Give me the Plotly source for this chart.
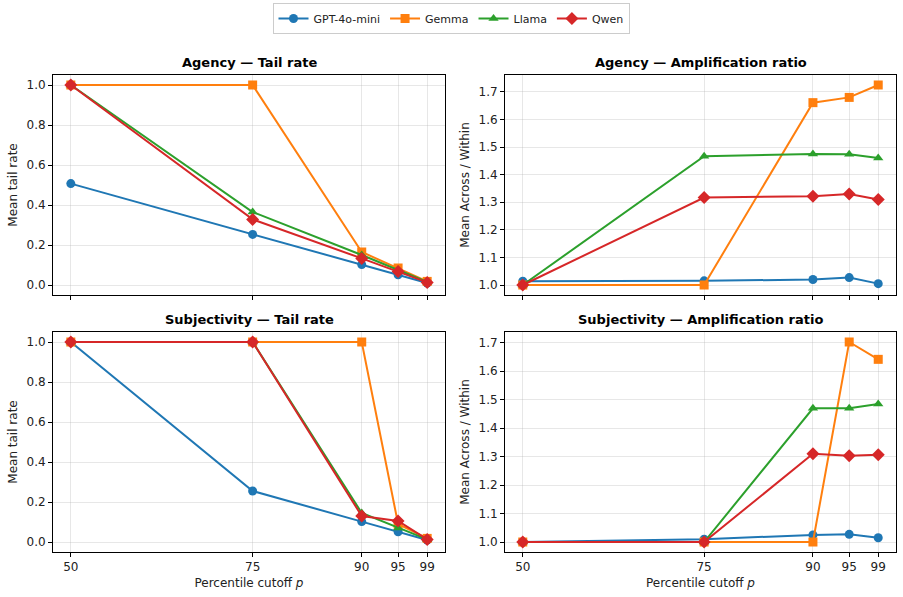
import plotly.graph_objects as go

p_cutoffs = [50, 75, 90, 95, 99]
models = ["GPT-4o-mini", "Gemma", "Llama", "Qwen"]
colors = ["#1f77b4", "#ff7f0e", "#2ca02c", "#d62728"]
symbols = ["circle", "square", "triangle-up", "diamond"]

agency_tail = {
    "GPT-4o-mini": [0.507, 0.253, 0.102, 0.051, 0.010],
    "Gemma": [1.0, 1.0, 0.165, 0.085, 0.018],
    "Llama": [1.0, 0.365, 0.150, 0.075, 0.015],
    "Qwen": [1.0, 0.328, 0.133, 0.068, 0.013],
}
agency_amp = {
    "GPT-4o-mini": [1.014, 1.015, 1.020, 1.027, 1.005],
    "Gemma": [1.0, 1.0, 1.661, 1.680, 1.725],
    "Llama": [1.0, 1.467, 1.475, 1.474, 1.460],
    "Qwen": [1.0, 1.317, 1.322, 1.330, 1.310],
}
subj_tail = {
    "GPT-4o-mini": [1.0, 0.255, 0.102, 0.051, 0.010],
    "Gemma": [1.0, 1.0, 1.0, 0.090, 0.018],
    "Llama": [1.0, 1.0, 0.145, 0.070, 0.013],
    "Qwen": [1.0, 1.0, 0.130, 0.105, 0.013],
}
subj_amp = {
    "GPT-4o-mini": [1.0, 1.010, 1.025, 1.027, 1.015],
    "Gemma": [1.0, 1.0, 1.0, 1.703, 1.642],
    "Llama": [1.0, 1.0, 1.470, 1.470, 1.485],
    "Qwen": [1.0, 1.0, 1.310, 1.303, 1.307],
}

panels = [
    ("Agency — Tail rate", agency_tail, "Mean tail rate", "x", "y"),
    ("Agency — Amplification ratio", agency_amp, "Mean Across / Within", "x2", "y2"),
    ("Subjectivity — Tail rate", subj_tail, "Mean tail rate", "x3", "y3"),
    ("Subjectivity — Amplification ratio", subj_amp, "Mean Across / Within", "x4", "y4"),
]

FONT = "DejaVu Sans"
fig = go.Figure()

for i, (title, data, ylab, xa, ya) in enumerate(panels):
    for m, c, s in zip(models, colors, symbols):
        fig.add_trace(go.Scatter(
            x=p_cutoffs, y=data[m], mode="lines+markers", name=m,
            line=dict(color=c, width=2),
            marker=dict(symbol=s, size=9 if s != "diamond" else 10, color=c),
            xaxis=xa, yaxis=ya, showlegend=(i == 0),
        ))

W, H = 903, 597
ml, mr, mt, mb = 53, 7, 75, 45
pw = W - ml - mr
ph = H - mt - mb
xd_left = [0, (445 - ml) / pw]
xd_right = [(505 - ml) / pw, 1]
yd_top = [(H - mb - 295) / ph, 1]
yd_bot = [0, (H - mb - 332) / ph]

grid = "rgba(176,176,176,0.3)"
axcommon = dict(showline=True, linecolor="black", linewidth=1, mirror=True,
                ticks="outside", ticklen=4, tickcolor="black",
                showgrid=True, gridcolor=grid, gridwidth=1, zeroline=False,
                tickfont=dict(family=FONT, size=12, color="#222"))

xr = [47.55, 101.45]
def xaxis(domain, anchor, labels):
    d = dict(axcommon, domain=domain, anchor=anchor, range=xr,
             tickmode="array", tickvals=p_cutoffs,
             ticktext=[str(v) for v in p_cutoffs], showticklabels=labels)
    if labels:
        d["title"] = dict(text="Percentile cutoff <i>p</i>", font=dict(family=FONT, size=12, color="#222"), standoff=5)
    return d

def yaxis(domain, anchor, rng, dtick, fmt, label):
    return dict(axcommon, domain=domain, anchor=anchor, range=rng, dtick=dtick, tick0=0,
                tickformat=fmt,
                title=dict(text=label, font=dict(family=FONT, size=12, color="#222"), standoff=6))

fig.update_layout(
    width=W, height=H,
    margin=dict(l=ml, r=mr, t=mt, b=mb, autoexpand=False),
    paper_bgcolor="white", plot_bgcolor="white",
    font=dict(family=FONT, size=12, color="#222"),
    xaxis=xaxis(xd_left, "y", False),
    xaxis2=xaxis(xd_right, "y2", False),
    xaxis3=xaxis(xd_left, "y3", True),
    xaxis4=xaxis(xd_right, "y4", True),
    yaxis=yaxis(yd_top, "x", [-0.05, 1.05], 0.2, ".1f", "Mean tail rate"),
    yaxis2=yaxis(yd_top, "x2", [0.9638, 1.7612], 0.1, ".1f", "Mean Across / Within"),
    yaxis3=yaxis(yd_bot, "x3", [-0.05, 1.05], 0.2, ".1f", "Mean tail rate"),
    yaxis4=yaxis(yd_bot, "x4", [0.9649, 1.7381], 0.1, ".1f", "Mean Across / Within"),
    legend=dict(orientation="h", xref="container", x=451 / W, xanchor="center",
                yref="container", y=1 - 3 / H, yanchor="top",
                bordercolor="#cccccc", borderwidth=1,
                font=dict(family=FONT, size=11, color="#222"),
                itemwidth=30, tracegroupgap=0),
    showlegend=True,
)

titles_pos = [(xd_left, yd_top), (xd_right, yd_top), (xd_left, yd_bot), (xd_right, yd_bot)]
for (title, *_), (xd, yd) in zip(panels, titles_pos):
    fig.add_annotation(text=f"<b>{title}</b>", xref="paper", yref="paper",
                       x=(xd[0] + xd[1]) / 2, y=yd[1], xanchor="center", yanchor="bottom",
                       yshift=3, showarrow=False,
                       font=dict(family=FONT, size=13, color="black"))

fig.write_html("out.html")
